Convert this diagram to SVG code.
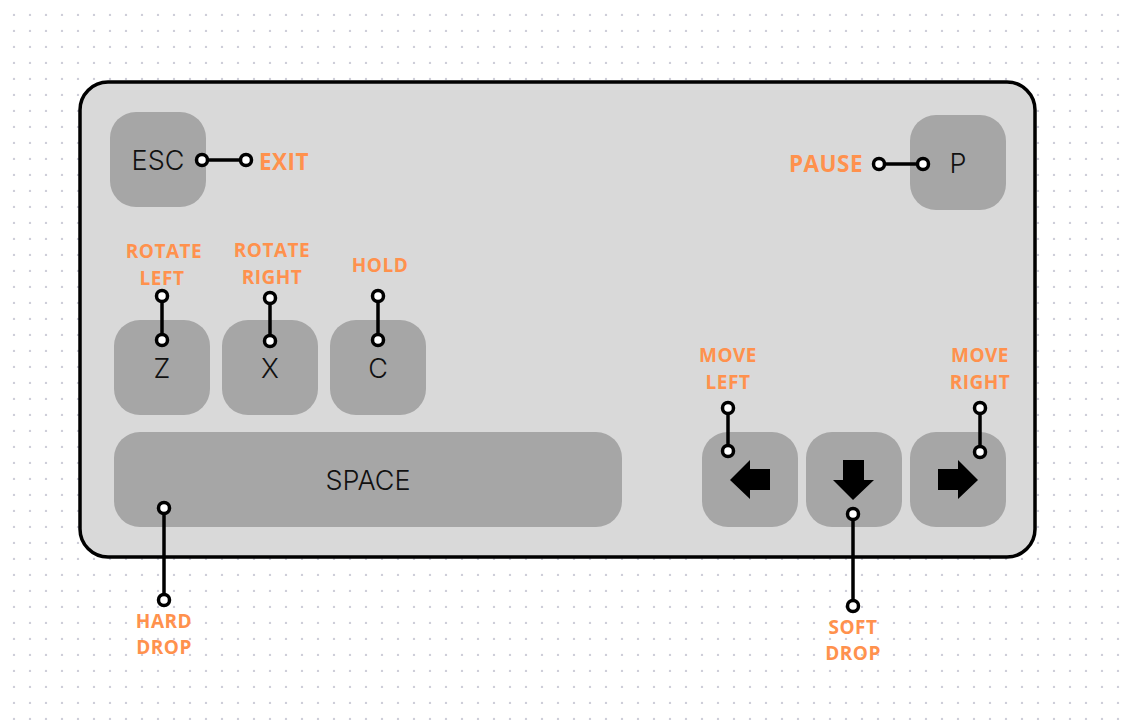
<svg xmlns="http://www.w3.org/2000/svg" width="1126" height="723" viewBox="0 0 1126 723">
<style>
.key{fill:#a6a6a6}
.kt{font-family:Inter,"Open Sans","Liberation Sans",sans-serif;font-size:27px;font-weight:300;fill:#111;text-anchor:middle;dominant-baseline:central}
.lb{font-family:"Open Sans","Liberation Sans",sans-serif;font-weight:700;font-size:19px;fill:#ff914d;text-anchor:middle;letter-spacing:0.5px}
.lb2{font-size:22.5px}
.ln{stroke:#000;stroke-width:3.5;fill:none}
.pt{fill:#fff;stroke:#000;stroke-width:3.5}
.ar{fill:#000}
</style>
<defs>
<pattern id="dots" width="16" height="16" patternUnits="userSpaceOnUse">
<circle cx="14" cy="15" r="1.2" fill="#cdcdd8"/>
</pattern>
</defs>
<rect width="1126" height="723" fill="#fff"/>
<rect width="1126" height="723" fill="url(#dots)"/>
<g id="panel"><rect x="80" y="82" width="955" height="475" rx="28" fill="#d9d9d9" stroke="#000" stroke-width="3.5"/></g>

<g id="key-esc"><rect class="key" x="110" y="112" width="96" height="95" rx="26"/><text class="kt" x="158" y="160">ESC</text></g>
<g id="key-p"><rect class="key" x="910" y="115" width="96" height="95" rx="26"/><text class="kt" x="958" y="163">P</text></g>
<g id="key-z"><rect class="key" x="114" y="320" width="96" height="95" rx="26"/><text class="kt" x="162" y="368">Z</text></g>
<g id="key-x"><rect class="key" x="222" y="320" width="96" height="95" rx="26"/><text class="kt" x="270" y="368">X</text></g>
<g id="key-c"><rect class="key" x="330" y="320" width="96" height="95" rx="26"/><text class="kt" x="378" y="368">C</text></g>
<g id="key-space"><rect class="key" x="114" y="432" width="508" height="95" rx="26"/><text class="kt" x="368" y="480">SPACE</text></g>
<g id="key-left"><rect class="key" x="702" y="432" width="96" height="95" rx="26"/><polygon class="ar" points="730,480 750,460 750,469 770,469 770,490 750,490 750,499"/></g>
<g id="key-down"><rect class="key" x="806" y="432" width="96" height="95" rx="26"/><polygon class="ar" points="843,460 864,460 864,480 874,480 853,500 833,480 843,480"/></g>
<g id="key-right"><rect class="key" x="910" y="432" width="96" height="95" rx="26"/><polygon class="ar" points="978,480 958,460 958,469 938,469 938,490 958,490 958,499"/></g>

<g id="label-exit"><text class="lb lb2" x="284" y="170">EXIT</text></g>
<g id="label-pause"><text class="lb lb2" x="826" y="172">PAUSE</text></g>
<g id="label-rotate-left"><text class="lb" x="164" y="258">ROTATE</text><text class="lb" x="162" y="285">LEFT</text></g>
<g id="label-rotate-right"><text class="lb" x="272" y="257">ROTATE</text><text class="lb" x="272" y="284">RIGHT</text></g>
<g id="label-hold"><text class="lb" x="380" y="272">HOLD</text></g>
<g id="label-move-left"><text class="lb" x="728" y="362">MOVE</text><text class="lb" x="728" y="389">LEFT</text></g>
<g id="label-move-right"><text class="lb" x="980" y="362">MOVE</text><text class="lb" x="980" y="389">RIGHT</text></g>
<g id="label-hard-drop"><text class="lb" x="164" y="628">HARD</text><text class="lb" x="164" y="654">DROP</text></g>
<g id="label-soft-drop"><text class="lb" x="853" y="634">SOFT</text><text class="lb" x="853" y="660">DROP</text></g>

<g id="connectors">
<line class="ln" x1="202" y1="160" x2="246" y2="160"/><circle class="pt" cx="202" cy="160" r="5.5"/><circle class="pt" cx="246" cy="160" r="5.5"/>
<line class="ln" x1="879" y1="164" x2="923" y2="164"/><circle class="pt" cx="879" cy="164" r="5.5"/><circle class="pt" cx="923" cy="164" r="5.5"/>
<line class="ln" x1="162" y1="296" x2="162" y2="340"/><circle class="pt" cx="162" cy="296" r="5.5"/><circle class="pt" cx="162" cy="340" r="5.5"/>
<line class="ln" x1="270" y1="298" x2="270" y2="341"/><circle class="pt" cx="270" cy="298" r="5.5"/><circle class="pt" cx="270" cy="341" r="5.5"/>
<line class="ln" x1="378" y1="296" x2="378" y2="340"/><circle class="pt" cx="378" cy="296" r="5.5"/><circle class="pt" cx="378" cy="340" r="5.5"/>
<line class="ln" x1="728" y1="408" x2="728" y2="451"/><circle class="pt" cx="728" cy="408" r="5.5"/><circle class="pt" cx="728" cy="451" r="5.5"/>
<line class="ln" x1="980" y1="408" x2="980" y2="452"/><circle class="pt" cx="980" cy="408" r="5.5"/><circle class="pt" cx="980" cy="452" r="5.5"/>
<line class="ln" x1="164" y1="508" x2="164" y2="600"/><circle class="pt" cx="164" cy="508" r="5.5"/><circle class="pt" cx="164" cy="600" r="5.5"/>
<line class="ln" x1="853" y1="514" x2="853" y2="606"/><circle class="pt" cx="853" cy="514" r="5.5"/><circle class="pt" cx="853" cy="606" r="5.5"/>
</g>
</svg>
